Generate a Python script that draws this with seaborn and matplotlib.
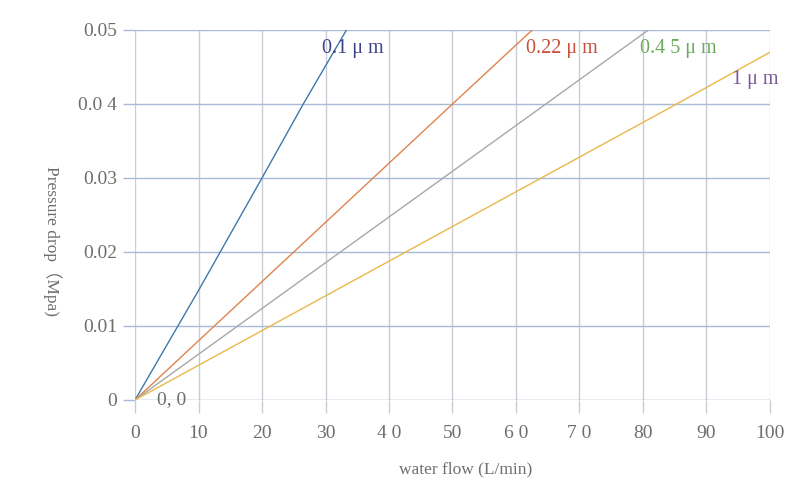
import matplotlib
matplotlib.use("Agg")
import matplotlib.pyplot as plt
import seaborn as sns
import pandas as pd

# ---- data ----
flow_01 = [0, 10, 20, 26.5, 33.3]
drop_01 = [0, 0.0148, 0.0300, 0.040, 0.050]
flow_022 = [0, 50, 62.8]
drop_022 = [0, 0.040, 0.0502]
flow_045 = [0, 64.7, 81]
drop_045 = [0, 0.040, 0.0501]
flow_1 = [0, 85.3, 100]
drop_1 = [0, 0.040, 0.047]

series_names = ["0.1 μ m", "0.22 μ m", "0.4 5 μ m", "1 μ m"]
x_ticks = [0, 10, 20, 30, 40, 50, 60, 70, 80, 90, 100]
x_tick_labels = ["0", "10", "20", "30", "4 0", "50", "6 0", "7 0", "80", "90", "100"]
y_ticks = [0, 0.01, 0.02, 0.03, 0.04, 0.05]
y_tick_labels = ["0", "0.01", "0.02", "0.03", "0.0 4", "0.05"]

line_colors = ["#3f78ac", "#de844c", "#a8a8a8", "#e9b84a"]
label_colors = ["#3c4283", "#c8503c", "#6aaa5c", "#7a5a98"]

frames = []
for name, xs, ys in zip(series_names,
                        [flow_01, flow_022, flow_045, flow_1],
                        [drop_01, drop_022, drop_045, drop_1]):
    frames.append(pd.DataFrame({"flow": xs, "drop": ys, "series": name}))
df = pd.concat(frames, ignore_index=True)

sns.set_theme(style="white")
plt.rcParams["font.family"] = ["Liberation Serif", "DejaVu Serif"]

fig = plt.figure(figsize=(8, 5), dpi=100)
ax = fig.add_axes([135 / 800, 1 - 400 / 500, 635 / 800, 370 / 500])

sns.lineplot(data=df, x="flow", y="drop", hue="series", palette=line_colors,
             hue_order=series_names, sort=False, estimator=None, ax=ax,
             linewidth=1.0, legend=False)

ax.set_xlim(0, 100)
ax.set_ylim(0, 0.05)
ax.set_xticks(x_ticks)
ax.set_xticklabels(x_tick_labels)
ax.set_yticks(y_ticks)
ax.set_yticklabels(y_tick_labels)

for x in x_ticks:
    ax.axvline(x, color="#c9ccd4", lw=1.0, zorder=0)
for y in y_ticks:
    ax.axhline(y, color="#a8bcd8", lw=1.0, zorder=0)
ax.axhline(0, color="#d0d0d4", lw=1.0, zorder=0)

for s in ax.spines.values():
    s.set_visible(False)

ax.tick_params(axis="x", bottom=True, length=9, width=1.0, color="#c9ccd4",
               labelsize=14, labelcolor="#6e6e6e", pad=9)
ax.tick_params(axis="y", left=True, length=9, width=1.0, color="#a8bcd8",
               labelsize=14, labelcolor="#6e6e6e", pad=4)

ax.set_xlabel("water flow (L/min)", fontsize=12.5, color="#6e6e6e")
ax.xaxis.set_label_coords(0.52, -0.165)
ax.set_ylabel("Pressure drop（Mpa)", fontsize=12.5, color="#6e6e6e",
              rotation=270, va="center", ha="center",
              fontfamily=["Liberation Serif", "Noto Sans CJK SC"])
ax.yaxis.set_label_coords(-0.13, 0.43)

# series labels
label_pos = [(29.5, 0.0475), (61.5, 0.0475), (79.5, 0.0475), (94.0, 0.0433)]
for name, (lx, ly), c in zip(series_names, label_pos, label_colors):
    ax.text(lx, ly, name, color=c, fontsize=14.5, ha="left", va="center")
ax.text(3.5, 0.0, "0, 0", color="#6e6e6e", fontsize=14, ha="left", va="center")

fig.savefig("out.png", dpi=100)
